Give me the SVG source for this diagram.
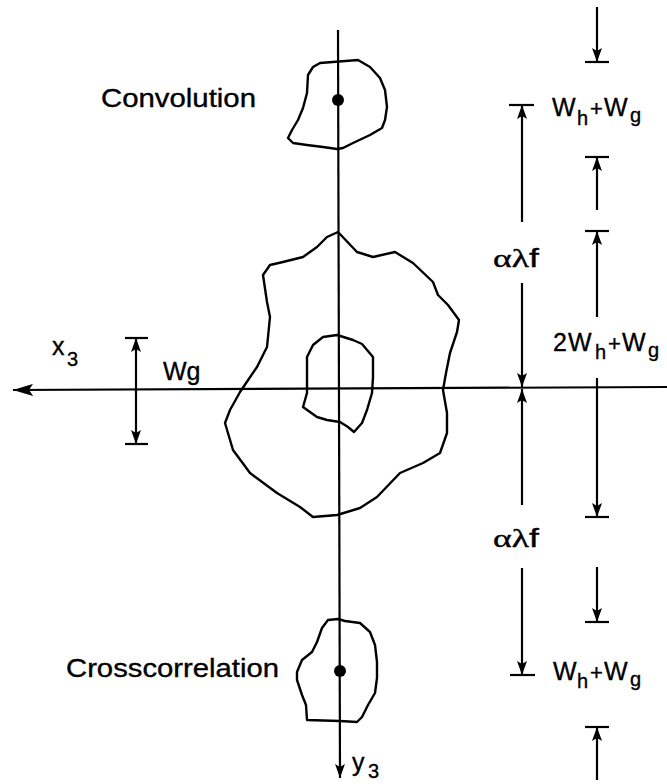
<svg xmlns="http://www.w3.org/2000/svg" width="667" height="784" viewBox="0 0 667 784">
<style>
.ln{stroke:#000;stroke-width:2.2;fill:none}
.blob{stroke:#000;stroke-width:2.4;fill:none;stroke-linejoin:round}
.dim{stroke:#000;stroke-width:2.2;fill:none;marker-end:url(#ah)}
.tick{stroke:#000;stroke-width:2.2}
.lbl{font-family:"Liberation Sans",Arial,sans-serif;font-size:25px;fill:#000;stroke:#000;stroke-width:0.35}
.sub{font-size:20px}
.pl{font-size:22px}
.gr{font-family:"Liberation Serif","Times New Roman",serif}
</style>
<defs>
<marker id="ah" viewBox="0 0 14 10" refX="14" refY="5" markerWidth="14" markerHeight="10" markerUnits="userSpaceOnUse" orient="auto"><path d="M0,0 L14,5 L0,10 L3,5 Z" fill="#000"/></marker>
<marker id="big" viewBox="0 0 20 12" refX="20" refY="6" markerWidth="20" markerHeight="12" markerUnits="userSpaceOnUse" orient="auto"><path d="M0,0 L20,6 L0,12 L4,6 Z" fill="#000"/></marker>
</defs>
<rect width="667" height="784" fill="#fff"/>

<g id="axes">
<line class="ln" x1="667" y1="387" x2="13" y2="390" marker-end="url(#big)"/>
<line class="ln" x1="338" y1="30" x2="340" y2="778" marker-end="url(#ah)"/>
<text class="lbl" y="355"><tspan x="52">x</tspan><tspan x="67" y="366" class="sub">3</tspan></text>
<text class="lbl" y="771"><tspan x="352">y</tspan><tspan x="368" y="778" class="sub">3</tspan></text>
</g>

<g id="convolution">
<path class="blob" d="M320,63 L358,60 L370,67 L380,78 L385,90 L387,107 L385,120 L382,128 L370,135 L353,143 L343,148 L337,149 L323,147 L307,145 L293,143 L288,138 L292,130 L298,120 L303,108 L307,93 L308,75 L313,67 Z"/>
<circle cx="338" cy="100" r="6" fill="#000"/>
<text class="lbl" x="101" y="107" textLength="155" lengthAdjust="spacingAndGlyphs">Convolution</text>
</g>

<g id="outer-blob">
<path class="blob" d="M338,232 L357,252 L373,257 L395,252 L413,263 L433,282 L438,295 L448,305 L459,320 L457,332 L450,353 L446,373 L443,390 L447,413 L447,433 L440,453 L423,463 L400,473 L377,497 L360,508 L337,515 L313,517 L300,507 L277,493 L250,473 L233,450 L225,423 L230,410 L240,392 L257,367 L267,347 L270,317 L267,302 L263,275 L270,265 L283,262 L303,257 L317,247 L327,237 Z"/>
</g>

<g id="inner-blob">
<path class="blob" d="M337,335 L353,340 L362,344 L373,357 L373,377 L372,393 L367,410 L362,423 L354,432 L348,427 L340,422 L327,420 L317,417 L303,407 L307,393 L307,357 L313,345 L323,337 Z"/>
</g>

<g id="crosscorrelation">
<path class="blob" d="M328,620 L338,619 L345,621 L360,623 L370,632 L375,645 L377,662 L377,678 L375,693 L368,705 L362,717 L357,722 L340,721 L307,720 L306,705 L302,695 L297,680 L297,672 L302,660 L312,652 L317,642 L322,628 Z"/>
<circle cx="340" cy="671" r="6" fill="#000"/>
<text class="lbl" x="66" y="677" textLength="213" lengthAdjust="spacingAndGlyphs">Crosscorrelation</text>
</g>

<g id="connectors">
<line class="dim" x1="136" y1="389" x2="136" y2="338"/>
<line class="dim" x1="136" y1="389" x2="136" y2="444"/>
<line class="tick" x1="125" y1="338" x2="148" y2="338"/>
<line class="tick" x1="125" y1="444" x2="148" y2="444"/>
<line class="dim" x1="522" y1="222" x2="522" y2="105"/>
<line class="tick" x1="509" y1="105" x2="534" y2="105"/>
<line class="dim" x1="522" y1="283" x2="522" y2="387"/>
<line class="dim" x1="522" y1="505" x2="522" y2="389"/>
<line class="dim" x1="522" y1="568" x2="522" y2="675"/>
<line class="tick" x1="510" y1="675" x2="535" y2="675"/>
<line class="dim" x1="597" y1="7" x2="597" y2="62"/>
<line class="tick" x1="585" y1="62" x2="609" y2="62"/>
<line class="dim" x1="597" y1="210" x2="597" y2="157"/>
<line class="tick" x1="585" y1="157" x2="609" y2="157"/>
<line class="dim" x1="597" y1="317" x2="597" y2="231"/>
<line class="tick" x1="585" y1="231" x2="609" y2="231"/>
<line class="dim" x1="597" y1="378" x2="597" y2="517"/>
<line class="tick" x1="585" y1="517" x2="609" y2="517"/>
<line class="dim" x1="597" y1="567" x2="597" y2="622"/>
<line class="tick" x1="585" y1="622" x2="609" y2="622"/>
<line class="dim" x1="597" y1="780" x2="597" y2="727"/>
<line class="tick" x1="585" y1="727" x2="609" y2="727"/>
</g>

<g id="labels">
<text class="lbl" x="163" y="380">Wg</text>
<text class="lbl" y="116"><tspan x="552">W</tspan><tspan x="577" y="125" class="sub">h</tspan><tspan x="590" y="116" class="pl">+</tspan><tspan x="604">W</tspan><tspan x="630" y="122" class="sub">g</tspan></text>
<text class="lbl" y="351"><tspan x="553">2</tspan><tspan x="568">W</tspan><tspan x="595" y="359" class="sub">h</tspan><tspan x="608" y="351" class="pl">+</tspan><tspan x="622">W</tspan><tspan x="648" y="357" class="sub">g</tspan></text>
<text class="lbl" y="680"><tspan x="553">W</tspan><tspan x="577" y="688" class="sub">h</tspan><tspan x="590" y="680" class="pl">+</tspan><tspan x="604">W</tspan><tspan x="630" y="686" class="sub">g</tspan></text>
<text class="lbl" x="493" y="267" textLength="46" lengthAdjust="spacingAndGlyphs"><tspan class="gr">αλ</tspan>f</text>
<text class="lbl" x="493" y="547" textLength="46" lengthAdjust="spacingAndGlyphs"><tspan class="gr">αλ</tspan>f</text>
</g>
</svg>
